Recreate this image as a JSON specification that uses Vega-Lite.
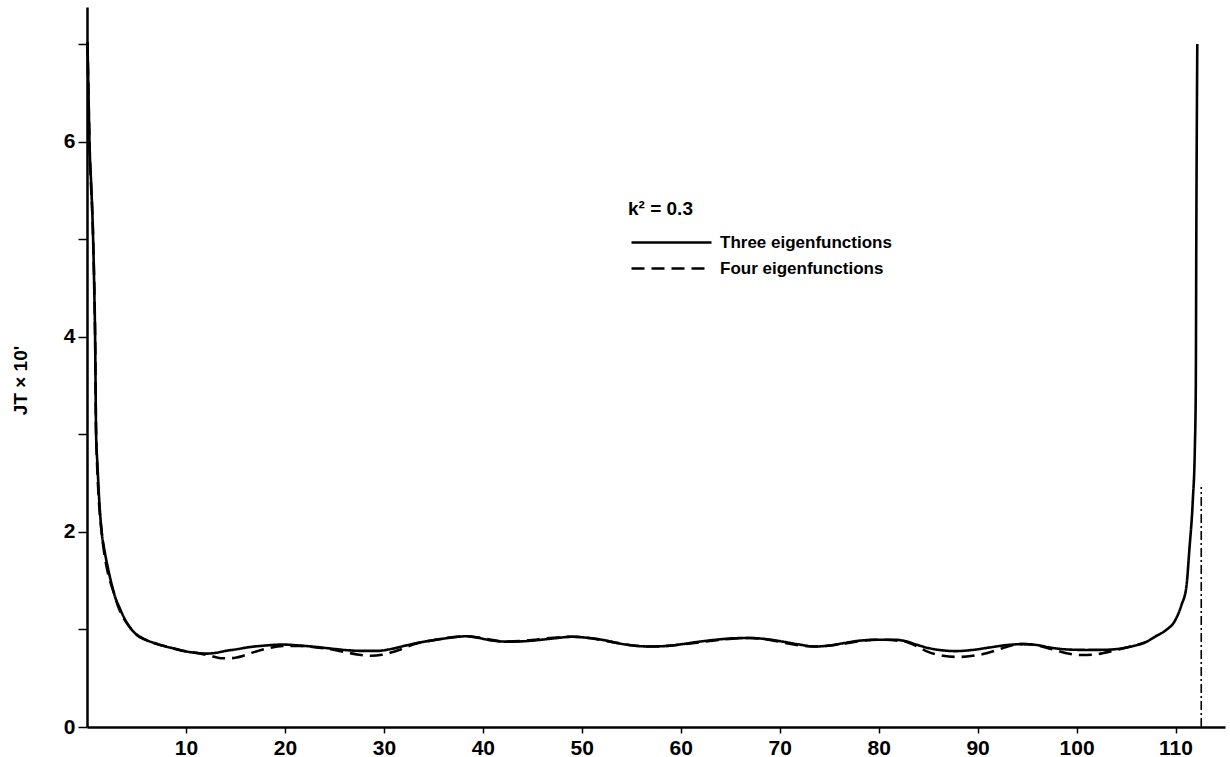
{
  "$schema": "https://vega.github.io/schema/vega-lite/v6.json",
  "width": 1138,
  "height": 720,
  "autosize": {"type": "none"},
  "padding": {"left": 87, "top": 7, "right": 5, "bottom": 30},
  "background": "white",
  "config": {
    "view": {"stroke": null},
    "font": "Liberation Sans",
    "axis": {"grid": false, "domainColor": "black", "tickColor": "black", "labelColor": "black", "titleColor": "black", "labelFont": "Liberation Sans", "labelFontWeight": "bold", "titleFont": "Liberation Sans", "titleFontWeight": "bold"}
  },
  "datasets": {
    "curves": [
      {"x": 0.05, "v": 7.02, "s": "Three eigenfunctions"},
      {"x": 0.15, "v": 6.5, "s": "Three eigenfunctions"},
      {"x": 0.25, "v": 6.0, "s": "Three eigenfunctions"},
      {"x": 0.45, "v": 5.5, "s": "Three eigenfunctions"},
      {"x": 0.62, "v": 5.0, "s": "Three eigenfunctions"},
      {"x": 0.75, "v": 4.4, "s": "Three eigenfunctions"},
      {"x": 0.82, "v": 4.0, "s": "Three eigenfunctions"},
      {"x": 0.92, "v": 3.0, "s": "Three eigenfunctions"},
      {"x": 1.05, "v": 2.7, "s": "Three eigenfunctions"},
      {"x": 1.25, "v": 2.3, "s": "Three eigenfunctions"},
      {"x": 1.48, "v": 2.0, "s": "Three eigenfunctions"},
      {"x": 1.75, "v": 1.82, "s": "Three eigenfunctions"},
      {"x": 2.05, "v": 1.66, "s": "Three eigenfunctions"},
      {"x": 2.45, "v": 1.48, "s": "Three eigenfunctions"},
      {"x": 2.85, "v": 1.33, "s": "Three eigenfunctions"},
      {"x": 3.3, "v": 1.22, "s": "Three eigenfunctions"},
      {"x": 3.7, "v": 1.13, "s": "Three eigenfunctions"},
      {"x": 4.5, "v": 1.0, "s": "Three eigenfunctions"},
      {"x": 5.2, "v": 0.93, "s": "Three eigenfunctions"},
      {"x": 6.0, "v": 0.89, "s": "Three eigenfunctions"},
      {"x": 7.0, "v": 0.855, "s": "Three eigenfunctions"},
      {"x": 8.0, "v": 0.825, "s": "Three eigenfunctions"},
      {"x": 9.0, "v": 0.80, "s": "Three eigenfunctions"},
      {"x": 10.0, "v": 0.775, "s": "Three eigenfunctions"},
      {"x": 11.0, "v": 0.76, "s": "Three eigenfunctions"},
      {"x": 12.0, "v": 0.752, "s": "Three eigenfunctions"},
      {"x": 13.0, "v": 0.76, "s": "Three eigenfunctions"},
      {"x": 14.0, "v": 0.78, "s": "Three eigenfunctions"},
      {"x": 15.0, "v": 0.795, "s": "Three eigenfunctions"},
      {"x": 16.5, "v": 0.82, "s": "Three eigenfunctions"},
      {"x": 18.0, "v": 0.835, "s": "Three eigenfunctions"},
      {"x": 19.8, "v": 0.845, "s": "Three eigenfunctions"},
      {"x": 21.5, "v": 0.835, "s": "Three eigenfunctions"},
      {"x": 23.2, "v": 0.82, "s": "Three eigenfunctions"},
      {"x": 25.0, "v": 0.80, "s": "Three eigenfunctions"},
      {"x": 26.6, "v": 0.785, "s": "Three eigenfunctions"},
      {"x": 28.0, "v": 0.78, "s": "Three eigenfunctions"},
      {"x": 29.3, "v": 0.78, "s": "Three eigenfunctions"},
      {"x": 30.5, "v": 0.795, "s": "Three eigenfunctions"},
      {"x": 31.6, "v": 0.82, "s": "Three eigenfunctions"},
      {"x": 33.3, "v": 0.86, "s": "Three eigenfunctions"},
      {"x": 35.0, "v": 0.89, "s": "Three eigenfunctions"},
      {"x": 36.7, "v": 0.915, "s": "Three eigenfunctions"},
      {"x": 38.3, "v": 0.93, "s": "Three eigenfunctions"},
      {"x": 39.5, "v": 0.915, "s": "Three eigenfunctions"},
      {"x": 40.7, "v": 0.89, "s": "Three eigenfunctions"},
      {"x": 42.4, "v": 0.875, "s": "Three eigenfunctions"},
      {"x": 44.0, "v": 0.878, "s": "Three eigenfunctions"},
      {"x": 45.5, "v": 0.89, "s": "Three eigenfunctions"},
      {"x": 47.3, "v": 0.91, "s": "Three eigenfunctions"},
      {"x": 49.0, "v": 0.925, "s": "Three eigenfunctions"},
      {"x": 50.5, "v": 0.915, "s": "Three eigenfunctions"},
      {"x": 52.0, "v": 0.895, "s": "Three eigenfunctions"},
      {"x": 53.6, "v": 0.86, "s": "Three eigenfunctions"},
      {"x": 55.2, "v": 0.835, "s": "Three eigenfunctions"},
      {"x": 56.8, "v": 0.825, "s": "Three eigenfunctions"},
      {"x": 58.5, "v": 0.83, "s": "Three eigenfunctions"},
      {"x": 60.2, "v": 0.85, "s": "Three eigenfunctions"},
      {"x": 61.9, "v": 0.875, "s": "Three eigenfunctions"},
      {"x": 63.6, "v": 0.895, "s": "Three eigenfunctions"},
      {"x": 65.5, "v": 0.91, "s": "Three eigenfunctions"},
      {"x": 67.0, "v": 0.912, "s": "Three eigenfunctions"},
      {"x": 68.7, "v": 0.90, "s": "Three eigenfunctions"},
      {"x": 70.3, "v": 0.875, "s": "Three eigenfunctions"},
      {"x": 72.0, "v": 0.845, "s": "Three eigenfunctions"},
      {"x": 73.5, "v": 0.825, "s": "Three eigenfunctions"},
      {"x": 75.0, "v": 0.835, "s": "Three eigenfunctions"},
      {"x": 76.5, "v": 0.86, "s": "Three eigenfunctions"},
      {"x": 78.1, "v": 0.885, "s": "Three eigenfunctions"},
      {"x": 80.0, "v": 0.895, "s": "Three eigenfunctions"},
      {"x": 81.5, "v": 0.895, "s": "Three eigenfunctions"},
      {"x": 82.7, "v": 0.88, "s": "Three eigenfunctions"},
      {"x": 83.8, "v": 0.845, "s": "Three eigenfunctions"},
      {"x": 85.0, "v": 0.81, "s": "Three eigenfunctions"},
      {"x": 86.5, "v": 0.785, "s": "Three eigenfunctions"},
      {"x": 87.8, "v": 0.778, "s": "Three eigenfunctions"},
      {"x": 89.5, "v": 0.79, "s": "Three eigenfunctions"},
      {"x": 91.2, "v": 0.815, "s": "Three eigenfunctions"},
      {"x": 93.0, "v": 0.84, "s": "Three eigenfunctions"},
      {"x": 94.6, "v": 0.85, "s": "Three eigenfunctions"},
      {"x": 96.0, "v": 0.84, "s": "Three eigenfunctions"},
      {"x": 97.3, "v": 0.815, "s": "Three eigenfunctions"},
      {"x": 99.0, "v": 0.795, "s": "Three eigenfunctions"},
      {"x": 101.0, "v": 0.79, "s": "Three eigenfunctions"},
      {"x": 103.0, "v": 0.792, "s": "Three eigenfunctions"},
      {"x": 104.5, "v": 0.805, "s": "Three eigenfunctions"},
      {"x": 105.7, "v": 0.83, "s": "Three eigenfunctions"},
      {"x": 107.0, "v": 0.87, "s": "Three eigenfunctions"},
      {"x": 108.0, "v": 0.93, "s": "Three eigenfunctions"},
      {"x": 109.0, "v": 0.99, "s": "Three eigenfunctions"},
      {"x": 110.0, "v": 1.1, "s": "Three eigenfunctions"},
      {"x": 110.6, "v": 1.25, "s": "Three eigenfunctions"},
      {"x": 111.1, "v": 1.44, "s": "Three eigenfunctions"},
      {"x": 111.4, "v": 1.82, "s": "Three eigenfunctions"},
      {"x": 111.75, "v": 2.33, "s": "Three eigenfunctions"},
      {"x": 111.95, "v": 2.84, "s": "Three eigenfunctions"},
      {"x": 112.05, "v": 3.5, "s": "Three eigenfunctions"},
      {"x": 112.1, "v": 5.0, "s": "Three eigenfunctions"},
      {"x": 112.2, "v": 7.0, "s": "Three eigenfunctions"},

      {"x": 0.05, "v": 7.02, "s": "Four eigenfunctions"},
      {"x": 0.25, "v": 6.0, "s": "Four eigenfunctions"},
      {"x": 0.62, "v": 5.0, "s": "Four eigenfunctions"},
      {"x": 0.82, "v": 4.0, "s": "Four eigenfunctions"},
      {"x": 0.92, "v": 3.0, "s": "Four eigenfunctions"},
      {"x": 1.48, "v": 2.0, "s": "Four eigenfunctions"},
      {"x": 2.85, "v": 1.33, "s": "Four eigenfunctions"},
      {"x": 4.5, "v": 1.0, "s": "Four eigenfunctions"},
      {"x": 6.0, "v": 0.89, "s": "Four eigenfunctions"},
      {"x": 8.0, "v": 0.825, "s": "Four eigenfunctions"},
      {"x": 10.0, "v": 0.775, "s": "Four eigenfunctions"},
      {"x": 11.5, "v": 0.752, "s": "Four eigenfunctions"},
      {"x": 12.5, "v": 0.73, "s": "Four eigenfunctions"},
      {"x": 13.5, "v": 0.705, "s": "Four eigenfunctions"},
      {"x": 14.5, "v": 0.705, "s": "Four eigenfunctions"},
      {"x": 15.8, "v": 0.73, "s": "Four eigenfunctions"},
      {"x": 16.8, "v": 0.765, "s": "Four eigenfunctions"},
      {"x": 18.0, "v": 0.80, "s": "Four eigenfunctions"},
      {"x": 19.8, "v": 0.83, "s": "Four eigenfunctions"},
      {"x": 21.5, "v": 0.83, "s": "Four eigenfunctions"},
      {"x": 23.2, "v": 0.815, "s": "Four eigenfunctions"},
      {"x": 24.8, "v": 0.795, "s": "Four eigenfunctions"},
      {"x": 26.2, "v": 0.765, "s": "Four eigenfunctions"},
      {"x": 27.5, "v": 0.74, "s": "Four eigenfunctions"},
      {"x": 28.7, "v": 0.73, "s": "Four eigenfunctions"},
      {"x": 29.8, "v": 0.74, "s": "Four eigenfunctions"},
      {"x": 30.8, "v": 0.765, "s": "Four eigenfunctions"},
      {"x": 31.8, "v": 0.80, "s": "Four eigenfunctions"},
      {"x": 33.3, "v": 0.855, "s": "Four eigenfunctions"},
      {"x": 35.0, "v": 0.89, "s": "Four eigenfunctions"},
      {"x": 38.3, "v": 0.93, "s": "Four eigenfunctions"},
      {"x": 42.4, "v": 0.875, "s": "Four eigenfunctions"},
      {"x": 49.0, "v": 0.925, "s": "Four eigenfunctions"},
      {"x": 56.8, "v": 0.825, "s": "Four eigenfunctions"},
      {"x": 67.0, "v": 0.912, "s": "Four eigenfunctions"},
      {"x": 73.5, "v": 0.825, "s": "Four eigenfunctions"},
      {"x": 80.0, "v": 0.895, "s": "Four eigenfunctions"},
      {"x": 82.7, "v": 0.875, "s": "Four eigenfunctions"},
      {"x": 83.8, "v": 0.83, "s": "Four eigenfunctions"},
      {"x": 85.0, "v": 0.77, "s": "Four eigenfunctions"},
      {"x": 86.5, "v": 0.73, "s": "Four eigenfunctions"},
      {"x": 88.0, "v": 0.718, "s": "Four eigenfunctions"},
      {"x": 89.5, "v": 0.73, "s": "Four eigenfunctions"},
      {"x": 90.9, "v": 0.755, "s": "Four eigenfunctions"},
      {"x": 92.3, "v": 0.80, "s": "Four eigenfunctions"},
      {"x": 93.6, "v": 0.84, "s": "Four eigenfunctions"},
      {"x": 94.6, "v": 0.85, "s": "Four eigenfunctions"},
      {"x": 96.3, "v": 0.83, "s": "Four eigenfunctions"},
      {"x": 97.6, "v": 0.795, "s": "Four eigenfunctions"},
      {"x": 99.0, "v": 0.755, "s": "Four eigenfunctions"},
      {"x": 100.5, "v": 0.738, "s": "Four eigenfunctions"},
      {"x": 101.8, "v": 0.742, "s": "Four eigenfunctions"},
      {"x": 103.0, "v": 0.765, "s": "Four eigenfunctions"},
      {"x": 104.2, "v": 0.795, "s": "Four eigenfunctions"},
      {"x": 105.5, "v": 0.825, "s": "Four eigenfunctions"},
      {"x": 107.0, "v": 0.87, "s": "Four eigenfunctions"}
    ],
    "marker": [
      {"x": 112.6, "lo": 0, "hi": 2.46}
    ]
  },
  "layer": [
    {
      "data": {"name": "curves"},
      "mark": {"type": "line", "interpolate": "monotone", "color": "black", "strokeWidth": 2.6},
      "encoding": {
        "x": {
          "field": "x", "type": "quantitative",
          "scale": {"domain": [0, 115], "nice": false, "zero": false},
          "axis": {"title": null, "values": [10, 20, 30, 40, 50, 60, 70, 80, 90, 100, 110], "format": "d", "tickSize": 6, "tickWidth": 1.5, "domainWidth": 2.5, "labelFontSize": 21, "labelPadding": 4, "labelFlush": false}
        },
        "y": {
          "field": "v", "type": "quantitative",
          "scale": {"domain": [0, 7.38], "nice": false},
          "axis": {"title": "JT × 10'", "values": [0, 1, 2, 3, 4, 5, 6, 7], "format": "d", "labelExpr": "datum.value % 2 == 0 ? datum.label : ''", "tickSize": 9, "tickWidth": 1.5, "domainWidth": 2.5, "labelFontSize": 21, "labelPadding": 3, "labelFlush": false, "titleFontSize": 19, "titleAngle": 270, "titleX": -67, "titleY": 373, "titleAlign": "center", "titleBaseline": "middle"}
        },
        "strokeDash": {
          "field": "s", "type": "nominal",
          "scale": {"domain": ["Three eigenfunctions", "Four eigenfunctions"], "range": [[1, 0], [13, 7]]},
          "legend": {
            "orient": "none", "legendX": 541, "legendY": 193,
            "title": "k² = 0.3", "titleFontSize": 19, "titleFontWeight": "bold", "titleColor": "black", "titlePadding": 15,
            "labelFontSize": 17, "labelFontWeight": "bold", "labelColor": "black", "labelLimit": 0,
            "symbolType": "M-8,0H8", "symbolSize": 100, "symbolStrokeWidth": 2.5, "symbolStrokeColor": "black",
            "rowPadding": 8, "symbolOffset": 35, "labelOffset": 40
          }
        }
      }
    },
    {
      "data": {"name": "marker"},
      "mark": {"type": "rule", "color": "black", "strokeWidth": 1.6, "strokeDash": [9, 3, 2, 3]},
      "encoding": {
        "x": {"field": "x", "type": "quantitative"},
        "y": {"field": "lo", "type": "quantitative"},
        "y2": {"field": "hi"}
      }
    }
  ]
}
